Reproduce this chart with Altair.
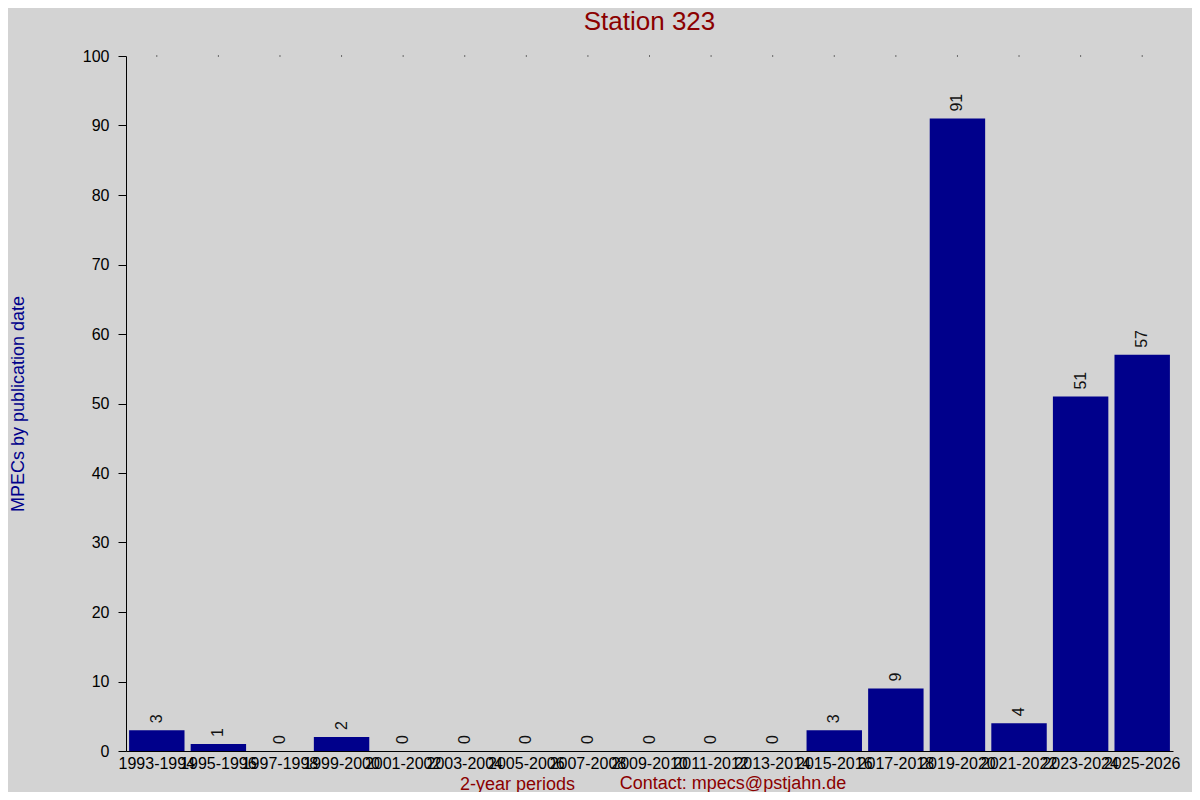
import altair as alt
import pandas as pd

periods = ["1993-1994", "1995-1996", "1997-1998", "1999-2000", "2001-2002",
           "2003-2004", "2005-2006", "2007-2008", "2009-2010", "2011-2012",
           "2013-2014", "2015-2016", "2017-2018", "2019-2020", "2021-2022",
           "2023-2024", "2025-2026"]
counts = [3, 1, 0, 2, 0, 0, 0, 0, 0, 0, 0, 3, 9, 91, 4, 51, 57]
y_ticks = [0, 10, 20, 30, 40, 50, 60, 70, 80, 90, 100]
top_value = 100
chart_title = "Station 323"
contact_text = "Contact: mpecs@pstjahn.de"

df = pd.DataFrame({"period": periods, "count": counts, "top": [top_value] * len(periods)})

FONT = "Liberation Sans"
x_enc = alt.X("period:N", sort=periods,
              scale=alt.Scale(paddingInner=0.1, paddingOuter=0.05),
              axis=alt.Axis(title="2-year periods", titleColor="#8b0000",
                            titleFontSize=18, titleFontWeight="normal",
                            titleX=391, titleY=33, titleAlign="center",
                            titleBaseline="middle",
                            labelAngle=0, labelFontSize=16, labelColor="black",
                            labelOverlap=False, labelPadding=4, ticks=False,
                            domainColor="black", labelFont=FONT, titleFont=FONT))
y_scale = alt.Scale(domain=[0, 100], nice=False)

bars = alt.Chart(df).mark_bar(color="#00008b").encode(
    x=x_enc,
    y=alt.Y("count:Q", scale=y_scale,
            axis=alt.Axis(title="MPECs by publication date", titleColor="#00008b",
                          titleFontSize=18, titleFontWeight="normal",
                          titleX=-108, titleY=347.5, titleAngle=270,
                          titleAlign="center", titleBaseline="middle",
                          values=y_ticks, grid=False, tickSize=8, tickColor="black",
                          domainColor="black", labelColor="black", labelFontSize=16,
                          labelPadding=9, labelFont=FONT, titleFont=FONT)),
)

labels = alt.Chart(df).mark_text(angle=270, align="left", baseline="middle",
                                 dx=7, fontSize=16, color="#111111", font=FONT).encode(
    x=alt.X("period:N", sort=periods),
    y=alt.Y("count:Q", scale=y_scale),
    text="count:Q",
)

dots = alt.Chart(df).mark_square(size=1, color="black", opacity=1).encode(
    x=alt.X("period:N", sort=periods),
    y=alt.Y("top:Q", scale=y_scale),
)

contact = alt.Chart(pd.DataFrame({"t": [contact_text]})).mark_text(
    fontSize=18, color="#8b0000", align="center", baseline="middle", font=FONT
).encode(x=alt.value(607), y=alt.value(728), text="t:N")

title = alt.Chart(pd.DataFrame({"t": [chart_title]})).mark_text(
    fontSize=26, color="#8b0000", align="center", baseline="middle", font=FONT
).encode(x=alt.value(523.5), y=alt.value(-34), text="t:N")

chart = alt.layer(bars, labels, dots, contact, title).properties(
    width=1047, height=695,
    background="#d3d3d3",
    autosize=alt.AutoSizeParams(type="none"),
    padding={"left": 118, "top": 48, "right": 19, "bottom": 41},
).configure_view(stroke=None)

chart.save("out.html", embed_options={"renderer": "svg", "actions": False})
